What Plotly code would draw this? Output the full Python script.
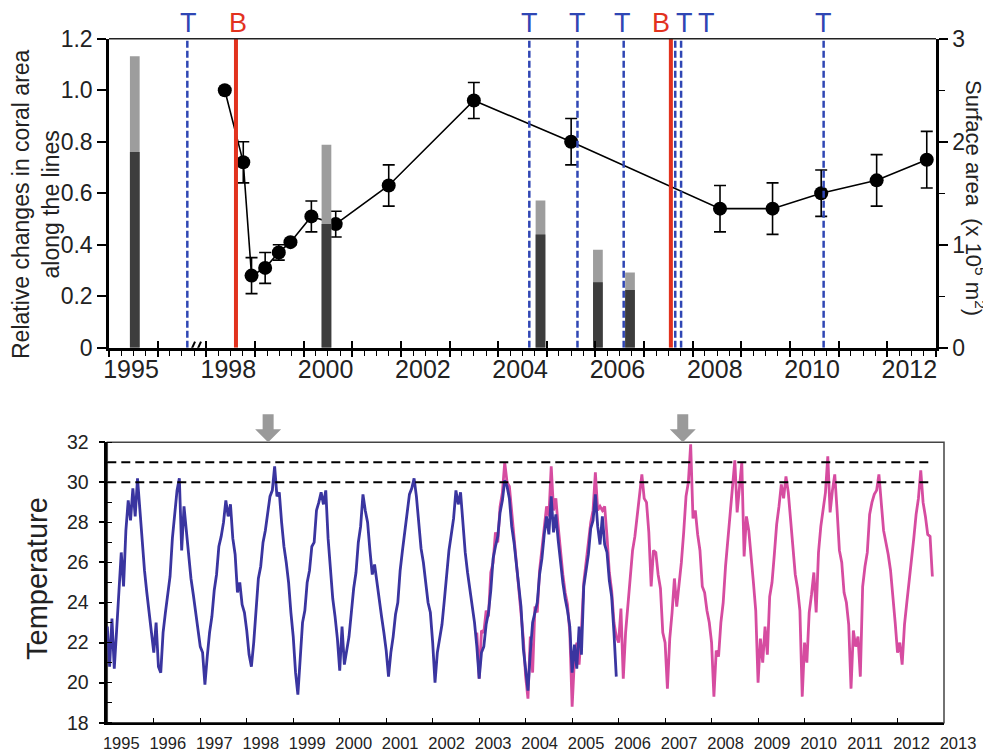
import numpy as np
import plotly.graph_objects as go

# page is drawn with an 8px body margin inside a 991x753 window
WIN_W, WIN_H, OFF = 991, 753, 8
W, H = WIN_W - OFF, WIN_H - OFF
FONT = "Liberation Sans, Arial, Helvetica, sans-serif"

# ---------------- Top panel data ----------------
survey_year = [1998.38, 1998.76, 1998.93, 1999.21, 1999.49, 1999.73, 2000.16, 2000.66,
               2001.75, 2003.50, 2005.50, 2008.56, 2009.64, 2010.64, 2011.78, 2012.81]
coral_rel = [1.00, 0.72, 0.28, 0.31, 0.37, 0.41, 0.51, 0.48,
             0.63, 0.96, 0.80, 0.54, 0.54, 0.60, 0.65, 0.73]
coral_err = [0.0, 0.08, 0.07, 0.06, 0.03, 0.01, 0.06, 0.05,
             0.08, 0.07, 0.09, 0.09, 0.10, 0.09, 0.10, 0.11]

area_year = [1995.53, 2000.47, 2004.87, 2006.05, 2006.71]
area_light = [2.83, 1.97, 1.43, 0.95, 0.73]
area_dark = [1.90, 1.20, 1.10, 0.635, 0.56]

event_type = ["T", "B", "T", "T", "T", "B", "T", "T", "T"]
event_year = [1996.61, 1998.61, 2004.64, 2005.63, 2006.58, 2007.55, 2007.64, 2007.76, 2010.69]

top_year_labels = [1995, 1998, 2000, 2002, 2004, 2006, 2008, 2010, 2012]

# ---------------- Bottom panel data ----------------
temp_step = 0.05
blue_start = 1995.0
blue_temp = [
    22.8, 20.8, 23.2, 20.7, 22.6, 24.6, 26.5, 24.8, 27.6, 29.1, 28.1, 29.7, 28.3, 30.2, 28.6, 27.5, 25.6, 24.5, 23.5, 22.5,
    21.5, 23.0, 20.8, 20.5, 22.5, 23.5, 24.5, 25.3, 27.2, 28.6, 29.6, 30.2, 26.6, 28.8, 27.5, 26.2, 25.2, 24.4, 23.5, 22.6,
    21.8, 21.5, 19.9, 21.3, 22.5, 23.3, 24.6, 25.4, 26.8, 27.3, 28.0, 29.1, 28.3, 28.9, 27.2, 26.4, 24.5, 25.0, 23.9, 23.5,
    22.6, 21.4, 20.8, 22.0, 23.5, 25.2, 25.8, 27.0, 27.6, 28.4, 29.3, 29.6, 30.8, 29.3, 29.5, 28.0, 26.8, 26.0, 25.0, 23.5,
    22.3, 20.5, 19.4, 21.2, 23.0, 23.6, 25.0, 25.6, 26.8, 27.0, 28.6, 29.0, 29.5, 28.9, 29.6, 27.2, 25.8, 24.2, 23.3, 22.2,
    20.6, 22.8, 20.9, 21.6, 22.3, 23.5, 24.7, 25.5, 27.0, 27.8, 29.4, 28.6, 28.0, 26.6, 25.4, 25.9, 25.0, 24.0, 23.3, 22.5,
    21.6, 20.3, 21.5, 22.3, 23.4, 24.0, 25.6, 26.6, 27.6, 28.6, 29.4, 29.7, 30.2, 29.3, 28.0, 26.7, 26.0, 25.0, 24.0, 23.5,
    22.0, 20.0, 21.5, 22.2, 22.9, 24.1, 25.4, 26.6, 27.4, 28.2, 29.6, 28.9, 29.5, 28.0, 26.5, 25.5, 24.6, 23.8, 23.0, 21.8,
    20.2, 21.5, 21.8, 22.9, 23.5, 24.6, 26.2, 26.8, 27.3, 28.5, 29.1, 30.1, 29.8, 29.2, 27.8, 27.0, 25.9, 24.7, 23.8, 21.7,
    20.5, 19.6, 21.5, 23.0, 23.5, 24.0, 25.4, 26.2, 27.4, 28.3, 27.4, 29.3, 27.5, 28.4, 27.1, 25.9, 25.0, 24.2, 23.6, 22.8,
    20.5, 21.9, 20.7, 22.8, 21.4, 24.8, 25.6, 26.4, 27.7, 28.1, 29.4, 27.8, 26.9, 28.3, 26.9, 26.5, 25.1, 24.3, 22.5, 20.3,
]
pink_start = 2002.95
pink_temp = [
    22.5,
    20.2, 22.6, 22.5, 23.6, 23.3, 25.5, 26.0, 27.5, 27.0, 28.8, 29.5, 31.0, 30.0, 29.8, 28.5, 27.3, 26.3, 25.0, 23.5, 22.2,
    20.3, 19.2, 22.3, 20.5, 23.8, 23.5, 25.6, 26.6, 27.6, 28.8, 28.3, 30.8, 28.6, 29.2, 27.8, 26.4, 25.4, 24.5, 23.9, 22.5,
    18.8, 21.2, 22.0, 20.9, 22.6, 25.0, 26.0, 26.8, 28.0, 28.6, 30.5, 28.6, 28.8, 28.6, 28.8, 27.3, 25.5, 24.6, 23.0, 22.3,
    22.0, 23.7, 20.2, 22.5, 23.9, 25.4, 26.6, 27.3, 28.4, 29.3, 30.4, 29.2, 29.0, 27.5, 24.8, 26.6, 26.5, 25.4, 24.7, 22.5,
    22.0, 19.7, 22.2, 23.5, 25.2, 23.8, 24.8, 26.0, 27.5, 29.3, 30.0, 31.9, 28.2, 28.6, 27.4, 26.6, 24.8, 24.5, 23.6, 23.0,
    22.0, 19.3, 21.6, 21.3, 23.0, 24.0, 25.8, 27.2, 28.5, 29.8, 31.1, 28.5, 29.8, 31.0, 26.3, 28.3, 27.6, 26.4, 25.0, 23.6,
    20.0, 22.2, 21.0, 22.8, 21.4, 24.3, 25.0, 26.4, 27.9, 28.8, 29.9, 29.2, 30.3, 29.5, 28.0, 26.8, 25.4, 24.7, 23.6, 19.3,
    22.0, 21.0, 23.5, 24.4, 25.5, 23.5, 26.5, 27.8, 28.6, 29.5, 31.3, 28.5, 29.6, 30.4, 28.6, 26.6, 26.0, 24.5, 24.0, 22.9,
    19.7, 22.6, 21.8, 22.3, 20.3, 24.8, 25.8, 26.5, 28.4, 29.0, 29.4, 29.6, 30.4, 29.0, 27.6, 27.0, 26.4, 25.6, 24.4, 23.0,
    21.5, 22.0, 20.9, 22.9, 24.0, 25.0, 26.0, 27.2, 28.4, 29.2, 30.6, 29.0, 28.3, 27.4, 27.3, 25.3,
]
bottom_years = list(range(1995, 2014))
threshold_temps = [30, 31]
threshold_end = 2012.77
heat_arrow_years = [1998.46, 2007.38]

# ---------------- helpers ----------------
def brk(y):
    """Broken top axis: 1995-1996 are drawn one year to the right (1997 is cut out)."""
    return y + 1 if y < 1997 else y


def px(x):
    """window pixel x -> paper fraction"""
    return (x - OFF) / W


def py(y):
    """window pixel y (from top) -> paper fraction"""
    return 1 - (y - OFF) / H


blue_x = np.round(blue_start + temp_step * np.arange(len(blue_temp)), 3)
pink_x = np.round(pink_start + temp_step * np.arange(len(pink_temp)), 3)

TOP_X = [px(109), px(936)]
TOP_Y = [py(347.7), py(38.7)]
BOT_X = [px(107.3), px(944)]
BOT_Y = [py(722.7), py(442.3)]

BLUE_EV = "#2f46b4"
RED_EV = "#e2321e"

fig = go.Figure()

# Bars (surface area, right axis)
fig.add_trace(go.Bar(x=[brk(v) for v in area_year], y=area_light, width=0.2,
                     marker=dict(color="#9d9d9d", line=dict(width=0)),
                     xaxis="x", yaxis="y2", showlegend=False, hoverinfo="skip"))
fig.add_trace(go.Bar(x=[brk(v) for v in area_year], y=area_dark, width=0.2,
                     marker=dict(color="#3d3d3d", line=dict(width=0)),
                     xaxis="x", yaxis="y2", showlegend=False, hoverinfo="skip"))

# Relative coral changes
fig.add_trace(go.Scatter(x=[brk(v) for v in survey_year], y=coral_rel, mode="lines+markers",
                         line=dict(color="black", width=1.6),
                         marker=dict(color="black", size=14),
                         error_y=dict(type="data", array=coral_err, color="black",
                                      thickness=1.6, width=6),
                         xaxis="x", yaxis="y", showlegend=False))
# dummy trace for the overlay label axis
fig.add_trace(go.Scatter(x=[2000], y=[None], xaxis="x3", yaxis="y", showlegend=False,
                         hoverinfo="skip", mode="markers"))

# Temperature
fig.add_trace(go.Scatter(x=pink_x, y=pink_temp, mode="lines",
                         line=dict(color="#d64ca0", width=2.8),
                         xaxis="x2", yaxis="y3", showlegend=False))
fig.add_trace(go.Scatter(x=blue_x, y=blue_temp, mode="lines",
                         line=dict(color="#3a35a0", width=2.8),
                         xaxis="x2", yaxis="y3", showlegend=False))

shapes = []
annotations = []

# Event lines and letters
letter_xshift = [1, 2, 0, 0, -1, -10, 9, 25, 0]
for kind, yr, xs in zip(event_type, event_year, letter_xshift):
    if kind == "T":
        ln = dict(color=BLUE_EV, width=2.5, dash="7px,3px")
        col = BLUE_EV
    else:
        ln = dict(color=RED_EV, width=4)
        col = RED_EV
    shapes.append(dict(type="line", xref="x", yref="y", x0=brk(yr), x1=brk(yr),
                       y0=0, y1=1.2, line=ln, layer="above"))
    annotations.append(dict(text=kind, x=brk(yr), xref="x", y=py(23), yref="paper",
                            xanchor="center", yanchor="middle", showarrow=False, xshift=xs,
                            font=dict(size=27, color=col, family=FONT)))

# top frame line
shapes.append(dict(type="line", xref="x domain", yref="y domain", x0=0, x1=1, y0=1, y1=1,
                   line=dict(color="#222", width=1.5)))
# axis break marks "//"
for dx in (-6, 0):
    shapes.append(dict(type="line", xref="x", yref="y", xsizemode="pixel", ysizemode="pixel",
                       xanchor=1997.83, yanchor=0, x0=dx - 3, x1=dx + 3, y0=-7, y1=6,
                       line=dict(color="black", width=2)))

# bottom box
shapes.append(dict(type="rect", xref="x2 domain", yref="y3 domain", x0=0, x1=1, y0=0, y1=1,
                   line=dict(color="#444", width=1.5), layer="below"))
# thresholds
for t in threshold_temps:
    shapes.append(dict(type="line", xref="x2", yref="y3", x0=bottom_years[0], x1=threshold_end,
                       y0=t, y1=t, line=dict(color="black", width=2, dash="9px,5px")))
# heat arrows
arrow_path = "M -5.5,28 L 5.5,28 L 5.5,13 L 13,13 L 0,0 L -13,13 L -5.5,13 Z"
for ay in heat_arrow_years:
    shapes.append(dict(type="path", xref="x2", yref="paper", xsizemode="pixel", ysizemode="pixel",
                       xanchor=ay, yanchor=BOT_Y[1], path=arrow_path,
                       fillcolor="#9a9a9a", line=dict(width=0)))

# Titles
annotations.append(dict(text="Relative changes in coral area<br>along the lines",
                        x=px(36), y=py(204), xref="paper", yref="paper",
                        textangle=-90, showarrow=False, xanchor="center", yanchor="middle",
                        font=dict(size=23, color="#222", family=FONT)))
annotations.append(dict(text="Surface area  (x 10<sup>5</sup> m<sup>2</sup>)",
                        x=px(975), y=py(198), xref="paper", yref="paper",
                        textangle=90, showarrow=False, xanchor="center", yanchor="middle",
                        font=dict(size=22, color="#222", family=FONT)))
annotations.append(dict(text="Temperature", x=px(37), y=py(579), xref="paper", yref="paper",
                        textangle=-90, showarrow=False, xanchor="center", yanchor="middle",
                        font=dict(size=29, color="#222", family=FONT)))

# tick texts
top_pos = list(range(1996, 2014))
top_text = []
for p in top_pos:
    actual = p - 1 if p < 1998 else p
    top_text.append(str(actual) if actual in top_year_labels else "")

fig.update_layout(
    template="none",
    width=W, height=H, autosize=False,
    margin=dict(l=0, r=0, t=0, b=0, pad=0, autoexpand=False),
    paper_bgcolor="white", plot_bgcolor="white",
    barmode="overlay", showlegend=False,
    font=dict(family=FONT, color="#222"),
    xaxis=dict(domain=TOP_X, anchor="y", range=[1996, 2013], automargin=False,
               tickmode="linear", tick0=1996, dtick=1, showticklabels=False,
               ticks="outside", ticklen=7, tickwidth=1.6, tickcolor="black",
               minor=dict(tickmode="linear", tick0=1996, dtick=0.25, ticks="outside",
                          ticklen=6, tickwidth=1.3, tickcolor="black", showgrid=False),
               showline=True, linewidth=2.5, linecolor="black",
               showgrid=False, zeroline=False),
    xaxis3=dict(overlaying="x", anchor="y", range=[1996, 2013], automargin=False,
                tickmode="array", tickvals=top_pos, ticktext=top_text,
                ticks="inside", ticklen=7, tickwidth=1.6, tickcolor="black",
                ticklabelshift=22, ticklabelstandoff=4,
                tickfont=dict(size=25, color="#222", family=FONT),
                showline=False, showgrid=False, zeroline=False),
    yaxis=dict(domain=TOP_Y, anchor="x", range=[0, 1.2], automargin=False,
               tickmode="array", tickvals=[0, 0.2, 0.4, 0.6, 0.8, 1.0, 1.2],
               ticktext=["0", "0.2", "0.4", "0.6", "0.8", "1.0", "1.2"],
               ticks="outside", ticklen=9, tickwidth=1.6, tickcolor="black",
               tickfont=dict(size=23, color="#222", family=FONT),
               showline=True, linewidth=2.5, linecolor="black",
               showgrid=False, zeroline=False),
    yaxis2=dict(overlaying="y", side="right", anchor="x", range=[0, 3], automargin=False,
                tickmode="linear", tick0=0, dtick=1,
                ticks="outside", ticklen=9, tickwidth=1.6, tickcolor="black",
                minor=dict(tickmode="linear", tick0=0, dtick=0.5, ticks="outside",
                           ticklen=6, tickwidth=1.3, tickcolor="black", showgrid=False),
                tickfont=dict(size=23, color="#222", family=FONT),
                showline=True, linewidth=2.5, linecolor="black",
                showgrid=False, zeroline=False),
    xaxis2=dict(domain=BOT_X, anchor="y3", range=[1995, 2013], automargin=False,
                tickmode="array", tickvals=bottom_years, ticktext=[str(y) for y in bottom_years],
                ticks="inside", ticklen=5, tickwidth=1.3, tickcolor="black",
                ticklabelshift=14, ticklabelstandoff=4,
                tickfont=dict(size=16.5, color="#222", family=FONT),
                showline=True, linewidth=2, linecolor="black",
                showgrid=False, zeroline=False),
    yaxis3=dict(domain=BOT_Y, anchor="x2", range=[18, 32], automargin=False,
                tickmode="linear", tick0=18, dtick=2,
                ticks="outside", ticklen=6, tickwidth=1.5, tickcolor="black",
                minor=dict(tickmode="linear", tick0=18, dtick=1, ticks="inside",
                           ticklen=5, tickwidth=1.2, tickcolor="black", showgrid=False),
                ticklabelstandoff=6,
                tickfont=dict(size=19.5, color="#222", family=FONT),
                showline=True, linewidth=2.5, linecolor="black",
                showgrid=False, zeroline=False),
    shapes=shapes,
    annotations=annotations,
)

fig.write_html("out.html")
